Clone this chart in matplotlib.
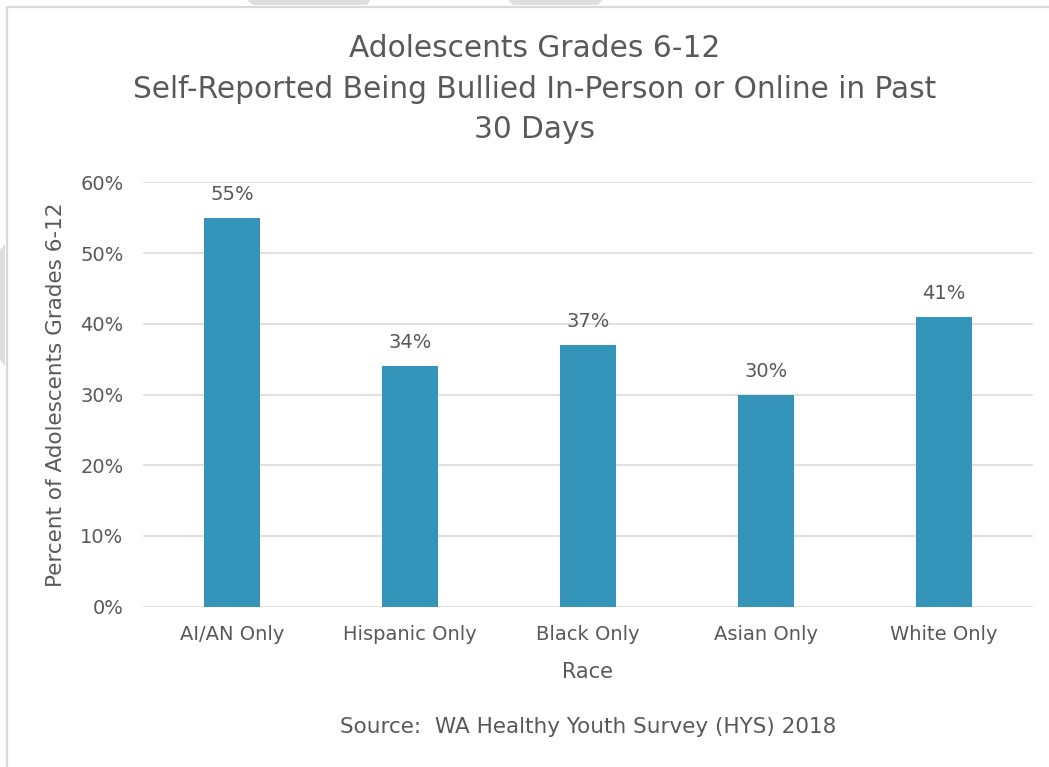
import matplotlib.pyplot as plt
from matplotlib.patches import Polygon
from matplotlib.lines import Line2D
from matplotlib.ticker import FuncFormatter

races = ['AI/AN Only', 'Hispanic Only', 'Black Only', 'Asian Only', 'White Only']
pct_bullied = [55, 34, 37, 30, 41]
y_ticks = [0, 10, 20, 30, 40, 50, 60]

bar_color = '#3494ba'
text_color = '#595959'
grid_color = '#d9d9d9'

plt.rcParams['font.family'] = ['DejaVu Sans']

W, H = 1049, 767
fig = plt.figure(figsize=(W / 100, H / 100), dpi=100)
fig.patch.set_facecolor('white')

def px(x, y):
    # pixel position (top-left origin) -> figure fraction
    return (x / W, 1 - y / H)

# slide decoration peeking out around the chart frame
for pts in ([(247, 0), (370, 0), (367, 5), (253, 5)],
            [(508, 0), (603, 0), (598, 5), (513, 5)],
            [(0, 250), (5, 244), (5, 366), (0, 360)]):
    fig.patches.append(Polygon([px(*p) for p in pts], closed=True,
                               transform=fig.transFigure, facecolor='#dedede',
                               edgecolor='none', zorder=0))

# chart frame (top and left edges only fall inside the image)
fig.lines.append(Line2D([7 / W, 7 / W, 1], [0, 1 - 7 / H, 1 - 7 / H],
                        transform=fig.transFigure, color=grid_color, lw=1.6, zorder=1))

ax = fig.add_axes([143 / W, 1 - 606.7 / H, 890 / W, (606.7 - 182.3) / H])
ax.set_facecolor('none')

x = list(range(len(races)))
bars = ax.bar(x, pct_bullied, width=0.315, color=bar_color, zorder=3)

for rect, v in zip(bars, pct_bullied):
    ax.annotate(f'{v}%', (rect.get_x() + rect.get_width() / 2, v),
                xytext=(0, 10), textcoords='offset points', ha='center', va='bottom',
                fontsize=14, color=text_color)

ax.set_xlim(-0.5, len(races) - 0.5)
ax.set_ylim(0, 60)
ax.set_yticks(y_ticks)
ax.yaxis.set_major_formatter(FuncFormatter(lambda v, _: f'{v:.0f}%'))
ax.set_xticks(x)
ax.set_xticklabels(races)
ax.tick_params(axis='both', length=0, labelsize=14, labelcolor=text_color)
ax.tick_params(axis='y', pad=14)
ax.tick_params(axis='x', pad=13)

ax.grid(axis='y', color=grid_color, lw=1.1, zorder=0)
for s in ax.spines.values():
    s.set_visible(False)

ax.set_xlabel('Race', fontsize=15, color=text_color, labelpad=13)
ax.set_ylabel('Percent of Adolescents Grades 6-12', fontsize=15.5, color=text_color, labelpad=10)

fig.text(535 / W, 1 - 89 / H,
         'Adolescents Grades 6-12\nSelf-Reported Being Bullied In-Person or Online in Past\n30 Days',
         ha='center', va='center', fontsize=21.3, color=text_color, linespacing=1.5)

fig.text(588 / W, 1 - 727 / H, 'Source:  WA Healthy Youth Survey (HYS) 2018',
         ha='center', va='center', fontsize=15.5, color=text_color)

fig.savefig('out.png', dpi=100)
